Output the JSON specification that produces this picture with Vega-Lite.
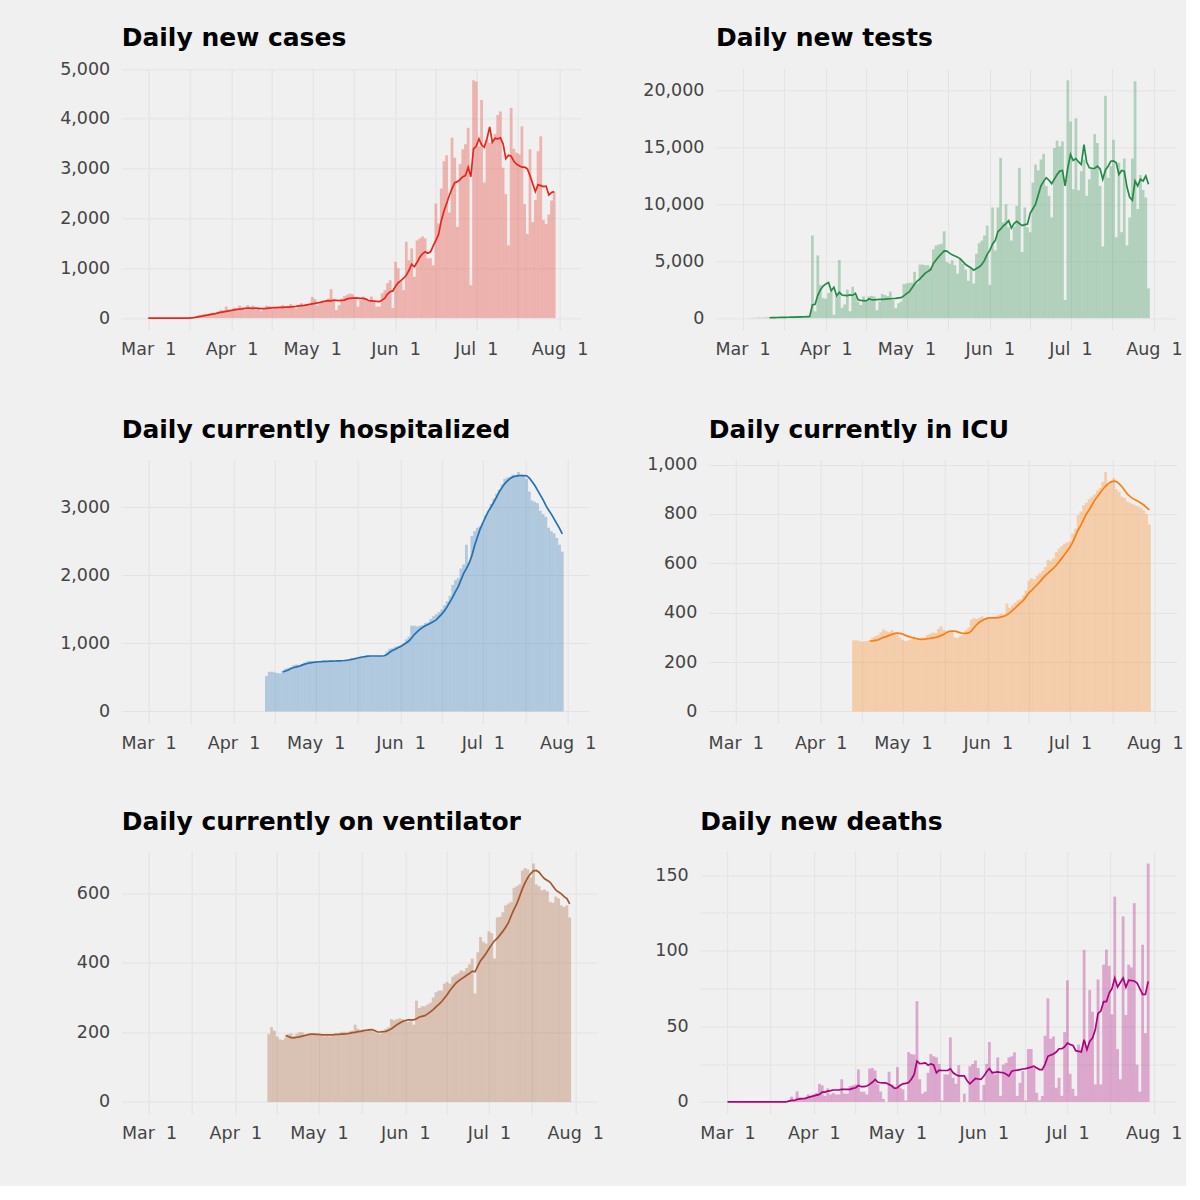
{
"$schema": "https://vega.github.io/schema/vega-lite/v6.json",
"background": "#f0f0f0",
"padding": {"left": 41.7, "top": 25.4, "right": 2, "bottom": 44},
"config": {
  "view": {"stroke": null},
  "axis": {"grid": true, "gridColor": "#e3e3e3", "gridWidth": 1, "domain": false, "ticks": false, "labelFont": "DejaVu Sans", "labelFontSize": 17.5, "labelColor": "#444444", "labelPadding": 11},
  "axisY": {"labelPadding": 12},
  "title": {"font": "DejaVu Sans", "fontSize": 25, "fontWeight": "bold", "color": "#000000", "anchor": "start", "frame": "group", "baseline": "alphabetic", "offset": 16.7}
},
"data": {"values": [
{"d":"2020-03-01","c":0,"cl":0,"x":0,"xl":0},
{"d":"2020-03-02","c":0,"cl":0,"x":0,"xl":0},
{"d":"2020-03-03","c":0,"cl":0,"x":0,"xl":0},
{"d":"2020-03-04","c":0,"cl":0,"t":20,"x":0,"xl":0},
{"d":"2020-03-05","c":0,"cl":0,"t":40,"x":0,"xl":0},
{"d":"2020-03-06","c":0,"cl":0,"t":30,"x":0,"xl":0},
{"d":"2020-03-07","c":0,"cl":0,"t":60,"x":0,"xl":0},
{"d":"2020-03-08","c":0,"cl":0,"t":40,"x":0,"xl":0},
{"d":"2020-03-09","c":0,"cl":0,"t":50,"x":0,"xl":0},
{"d":"2020-03-10","c":0,"cl":0,"t":70,"x":0,"xl":0},
{"d":"2020-03-11","c":0,"cl":0,"t":50,"tl":30,"x":0,"xl":0},
{"d":"2020-03-12","c":0,"cl":0,"t":60,"tl":40,"x":0,"xl":0},
{"d":"2020-03-13","c":0,"cl":0,"t":40,"tl":50,"x":0,"xl":0},
{"d":"2020-03-14","c":0,"cl":0,"t":70,"tl":55,"x":0,"xl":0},
{"d":"2020-03-15","c":0,"cl":0,"t":80,"tl":60,"x":0,"xl":0},
{"d":"2020-03-16","c":5,"cl":0,"t":60,"tl":65,"x":0,"xl":0},
{"d":"2020-03-17","c":10,"cl":5,"t":90,"tl":70,"x":0,"xl":0},
{"d":"2020-03-18","c":20,"cl":10,"t":100,"tl":75,"x":0,"xl":0},
{"d":"2020-03-19","c":30,"cl":20,"t":80,"tl":80,"x":0,"xl":0},
{"d":"2020-03-20","c":60,"cl":30,"t":110,"tl":85,"x":0,"xl":0},
{"d":"2020-03-21","c":50,"cl":40,"t":130,"tl":95,"x":0,"xl":0},
{"d":"2020-03-22","c":80,"cl":50,"t":120,"tl":100,"x":0,"xl":0},
{"d":"2020-03-23","c":70,"cl":60,"t":150,"tl":110,"x":1,"xl":0.5},
{"d":"2020-03-24","c":100,"cl":70,"t":140,"tl":120,"x":3.5,"xl":1},
{"d":"2020-03-25","c":110,"cl":80,"t":160,"tl":130,"x":1,"xl":1},
{"d":"2020-03-26","c":90,"cl":90,"t":180,"tl":145,"x":7,"xl":1.7},
{"d":"2020-03-27","c":130,"cl":105,"t":7250,"tl":1160,"x":3,"xl":2},
{"d":"2020-03-28","c":160,"cl":115,"t":600,"tl":1220,"x":2,"xl":2.2},
{"d":"2020-03-29","c":150,"cl":125,"t":5500,"tl":2000,"x":3,"xl":2.4},
{"d":"2020-03-30","c":230,"cl":135,"t":2900,"tl":2500,"x":5,"xl":3},
{"d":"2020-03-31","c":170,"cl":145,"t":1750,"tl":2810,"x":4,"xl":3.5},
{"d":"2020-04-01","c":150,"cl":155,"t":1700,"tl":3000,"x":5,"xl":4},
{"d":"2020-04-02","c":210,"cl":165,"t":2200,"tl":3130,"x":6,"xl":4.5},
{"d":"2020-04-03","c":190,"cl":175,"t":2400,"tl":2400,"x":12,"xl":5},
{"d":"2020-04-04","c":250,"cl":180,"t":300,"tl":2700,"x":11,"xl":6.5},
{"d":"2020-04-05","c":220,"cl":185,"t":1900,"tl":1970,"x":4,"xl":6.5},
{"d":"2020-04-06","c":160,"cl":195,"t":5100,"tl":2260,"x":9,"xl":7.2},
{"d":"2020-04-07","c":260,"cl":200,"t":900,"tl":2030,"x":5,"xl":7.5},
{"d":"2020-04-08","c":200,"cl":200,"t":1200,"tl":2000,"x":6,"xl":7.9},
{"d":"2020-04-09","c":250,"cl":195,"t":2500,"tl":1970,"x":5,"xl":7.9},
{"d":"2020-04-10","c":170,"cl":200,"t":600,"tl":2030,"x":5,"xl":7.9},
{"d":"2020-04-11","c":200,"cl":195,"t":2750,"tl":2000,"x":15,"xl":8.3},
{"d":"2020-04-12","c":140,"cl":190,"t":1900,"tl":2170,"x":5.5,"xl":8.3},
{"d":"2020-04-13","c":180,"cl":190,"t":1450,"tl":1600,"h":520,"i":288,"v":195,"x":5.5,"xl":8.3},
{"d":"2020-04-14","c":250,"cl":195,"t":1150,"tl":1550,"h":580,"i":288,"v":215,"x":10.5,"xl":8.3},
{"d":"2020-04-15","c":240,"cl":200,"t":1900,"tl":1530,"h":585,"i":287,"v":205,"x":11,"xl":9},
{"d":"2020-04-16","c":170,"cl":205,"t":1450,"tl":1510,"h":575,"i":282,"v":188,"x":11.6,"xl":9.4},
{"d":"2020-04-17","c":200,"cl":210,"t":1900,"tl":1680,"h":565,"i":284,"v":180,"x":21.5,"xl":10.9},
{"d":"2020-04-18","c":220,"cl":210,"t":1950,"tl":1620,"h":560,"i":286,"v":178,"x":6.8,"xl":10.1},
{"d":"2020-04-19","c":210,"cl":215,"t":1900,"tl":1600,"h":600,"hl":580,"i":290,"il":285,"v":185,"vl":191,"x":6.8,"xl":10.1},
{"d":"2020-04-20","c":260,"cl":215,"t":700,"tl":1620,"h":630,"hl":595,"i":300,"il":286,"v":195,"vl":188,"x":5,"xl":10.5},
{"d":"2020-04-21","c":200,"cl":220,"t":1450,"tl":1640,"h":640,"hl":610,"i":305,"il":288,"v":197,"vl":185,"x":22,"xl":11.6},
{"d":"2020-04-22","c":240,"cl":220,"t":2120,"tl":1650,"h":650,"hl":630,"i":310,"il":290,"v":190,"vl":184,"x":22.5,"xl":13},
{"d":"2020-04-23","c":280,"cl":225,"t":2030,"tl":1660,"h":680,"hl":645,"i":320,"il":295,"v":196,"vl":186,"x":20.8,"xl":14.9},
{"d":"2020-04-24","c":220,"cl":230,"t":1940,"tl":1680,"h":690,"hl":655,"i":332,"il":300,"v":200,"vl":187,"x":11.6,"xl":13},
{"d":"2020-04-25","c":190,"cl":235,"t":2320,"tl":1700,"h":670,"hl":665,"i":325,"il":303,"v":200,"vl":189,"x":6.8,"xl":12.7},
{"d":"2020-04-26","c":260,"cl":245,"t":1590,"tl":1720,"h":700,"hl":680,"i":322,"il":308,"v":195,"vl":191,"x":2,"xl":12.6},
{"d":"2020-04-27","c":300,"cl":250,"t":870,"tl":1740,"h":720,"hl":695,"i":330,"il":312,"v":197,"vl":193,"x":0,"xl":12.5},
{"d":"2020-04-28","c":250,"cl":255,"t":1300,"tl":1770,"h":740,"hl":705,"i":315,"il":316,"v":195,"vl":195,"x":20,"xl":11.6},
{"d":"2020-04-29","c":270,"cl":265,"t":1450,"tl":1800,"h":745,"hl":715,"i":310,"il":317,"v":193,"vl":195,"x":11.6,"xl":10.5},
{"d":"2020-04-30","c":260,"cl":275,"t":2990,"tl":1950,"h":730,"hl":720,"i":300,"il":316,"v":195,"vl":194,"x":9.4,"xl":9},
{"d":"2020-05-01","c":420,"cl":285,"t":3040,"tl":2150,"h":725,"hl":725,"i":290,"il":313,"v":192,"vl":194,"x":23,"xl":9.4},
{"d":"2020-05-02","c":380,"cl":295,"t":3100,"tl":2300,"h":740,"hl":730,"i":285,"il":308,"v":190,"vl":193,"x":9.4,"xl":11},
{"d":"2020-05-03","c":250,"cl":305,"t":3100,"tl":2650,"h":740,"hl":732,"i":288,"il":304,"v":188,"vl":193,"x":8.3,"xl":12},
{"d":"2020-05-04","c":300,"cl":315,"t":4060,"tl":3000,"h":735,"hl":735,"i":292,"il":300,"v":190,"vl":193,"x":1,"xl":12.3},
{"d":"2020-05-05","c":320,"cl":330,"t":3040,"tl":3250,"h":740,"hl":737,"i":295,"il":298,"v":188,"vl":193,"x":33,"xl":12.9},
{"d":"2020-05-06","c":350,"cl":340,"t":4700,"tl":3450,"h":745,"hl":738,"i":292,"il":295,"v":190,"vl":193,"x":31.7,"xl":15},
{"d":"2020-05-07","c":390,"cl":350,"t":4700,"tl":3700,"h":740,"hl":740,"i":296,"il":293,"v":193,"vl":194,"x":31.3,"xl":18.2},
{"d":"2020-05-08","c":580,"cl":345,"t":4640,"tl":3950,"h":740,"hl":741,"i":300,"il":292,"v":195,"vl":194,"x":66.7,"xl":27},
{"d":"2020-05-09","c":340,"cl":360,"t":4640,"tl":4100,"h":745,"hl":742,"i":298,"il":293,"v":200,"vl":195,"x":15,"xl":25.4},
{"d":"2020-05-10","c":160,"cl":355,"t":4440,"tl":4260,"h":735,"hl":743,"i":310,"il":295,"v":202,"vl":195,"x":5.5,"xl":25.5},
{"d":"2020-05-11","c":260,"cl":350,"t":6030,"tl":4800,"h":730,"hl":745,"i":315,"il":296,"v":200,"vl":196,"x":6.8,"xl":25.8},
{"d":"2020-05-12","c":390,"cl":355,"t":6380,"tl":5100,"h":750,"hl":750,"i":320,"il":298,"v":203,"vl":197,"x":19.3,"xl":24.3},
{"d":"2020-05-13","c":440,"cl":360,"t":6460,"tl":5400,"h":765,"hl":756,"i":318,"il":300,"v":205,"vl":199,"x":31.7,"xl":25.2},
{"d":"2020-05-14","c":470,"cl":385,"t":6520,"tl":5650,"h":760,"hl":764,"i":335,"il":303,"v":222,"vl":200,"x":30.2,"xl":24.5},
{"d":"2020-05-15","c":490,"cl":395,"t":7620,"tl":5900,"h":770,"hl":772,"i":345,"il":308,"v":210,"vl":202,"x":29.5,"xl":19.3},
{"d":"2020-05-16","c":480,"cl":400,"t":4930,"tl":5880,"h":785,"hl":782,"i":330,"il":312,"v":207,"vl":203,"x":25.2,"xl":21},
{"d":"2020-05-17","c":400,"cl":405,"t":4780,"tl":5700,"h":800,"hl":792,"i":325,"il":320,"v":208,"vl":205,"x":1,"xl":20.8},
{"d":"2020-05-18","c":230,"cl":400,"t":5070,"tl":5550,"h":805,"hl":800,"i":328,"il":324,"v":208,"vl":206,"x":18.2,"xl":20.8},
{"d":"2020-05-19","c":360,"cl":395,"t":4640,"tl":5450,"h":810,"hl":806,"i":322,"il":325,"v":210,"vl":207,"x":18.2,"xl":20.8},
{"d":"2020-05-20","c":430,"cl":395,"t":3910,"tl":5350,"h":815,"hl":812,"i":300,"il":325,"v":205,"vl":208,"x":42.7,"xl":21.9},
{"d":"2020-05-21","c":400,"cl":380,"t":5220,"tl":5200,"h":810,"hl":815,"i":298,"il":322,"v":200,"vl":205,"x":16,"xl":19.3},
{"d":"2020-05-22","c":330,"cl":350,"t":4780,"tl":4950,"h":805,"hl":815,"i":305,"il":318,"v":197,"vl":201,"x":12,"xl":18},
{"d":"2020-05-23","c":430,"cl":345,"t":4260,"tl":4700,"h":810,"hl":815,"i":310,"il":316,"v":196,"vl":201,"x":24.3,"xl":17.3},
{"d":"2020-05-24","c":330,"cl":340,"t":3280,"tl":4550,"h":815,"hl":815,"i":330,"il":316,"v":200,"vl":202,"x":0,"xl":17.3},
{"d":"2020-05-25","c":230,"cl":335,"t":4350,"tl":4400,"h":810,"hl":815,"i":340,"il":318,"v":210,"vl":203,"x":5.5,"xl":17.3},
{"d":"2020-05-26","c":230,"cl":330,"t":3040,"tl":4200,"h":820,"hl":818,"i":372,"il":325,"v":215,"vl":206,"x":0,"xl":14},
{"d":"2020-05-27","c":500,"cl":360,"t":5650,"tl":4350,"h":880,"hl":835,"i":378,"il":340,"v":238,"vl":210,"x":23.6,"xl":12},
{"d":"2020-05-28","c":560,"cl":400,"t":6580,"tl":4490,"h":920,"hl":870,"i":375,"il":352,"v":235,"vl":216,"x":25.2,"xl":13.8},
{"d":"2020-05-29","c":700,"cl":480,"t":6810,"tl":4700,"h":930,"hl":895,"i":380,"il":362,"v":238,"vl":222,"x":27.4,"xl":15.5},
{"d":"2020-05-30","c":760,"cl":530,"t":7250,"tl":5070,"h":950,"hl":915,"i":385,"il":368,"v":240,"vl":227,"x":22.5,"xl":15.2},
{"d":"2020-05-31","c":200,"cl":545,"t":8120,"tl":5600,"h":960,"hl":937,"i":378,"il":374,"v":238,"vl":231,"x":1,"xl":14.9},
{"d":"2020-06-01","c":1130,"cl":640,"t":2900,"tl":5940,"h":970,"hl":955,"i":380,"il":378,"v":232,"vl":234,"x":11.2,"xl":17.1},
{"d":"2020-06-02","c":1000,"cl":710,"t":9710,"tl":6500,"h":1000,"hl":980,"i":382,"il":379,"v":230,"vl":236,"x":25.2,"xl":20},
{"d":"2020-06-03","c":730,"cl":750,"t":5940,"tl":6810,"h":1060,"hl":1005,"i":380,"il":379,"v":232,"vl":236,"x":39.6,"xl":22.1},
{"d":"2020-06-04","c":560,"cl":800,"t":9710,"tl":7600,"h":1100,"hl":1035,"i":385,"il":379,"v":222,"vl":236,"x":20.4,"xl":19.3},
{"d":"2020-06-05","c":1530,"cl":860,"t":14060,"tl":7800,"h":1260,"hl":1080,"i":392,"il":380,"v":291,"vl":239,"x":18.2,"xl":19.6},
{"d":"2020-06-06","c":1160,"cl":960,"t":8410,"tl":8100,"h":1260,"hl":1130,"i":395,"il":383,"v":270,"vl":244,"x":29.5,"xl":19.9},
{"d":"2020-06-07","c":1400,"cl":1080,"t":10000,"tl":8300,"h":1250,"hl":1170,"i":390,"il":386,"v":275,"vl":246,"x":4,"xl":19.5},
{"d":"2020-06-08","c":830,"cl":1030,"t":7970,"tl":8550,"h":1260,"hl":1205,"i":437,"il":392,"v":275,"vl":248,"x":24.7,"xl":19.3},
{"d":"2020-06-09","c":1560,"cl":1120,"t":6810,"tl":7910,"h":1270,"hl":1235,"i":420,"il":399,"v":280,"vl":253,"x":25.8,"xl":18.5},
{"d":"2020-06-10","c":1600,"cl":1220,"t":8030,"tl":8300,"h":1300,"hl":1260,"i":430,"il":408,"v":285,"vl":259,"x":29.5,"xl":17.1},
{"d":"2020-06-11","c":1640,"cl":1290,"t":9860,"tl":8490,"h":1310,"hl":1279,"i":440,"il":419,"v":300,"vl":265,"x":30.2,"xl":20.3},
{"d":"2020-06-12","c":1600,"cl":1330,"t":13190,"tl":8300,"h":1360,"hl":1300,"i":450,"il":430,"v":315,"vl":273,"x":32.8,"xl":20.8},
{"d":"2020-06-13","c":1200,"cl":1300,"t":5800,"tl":8120,"h":1400,"hl":1320,"i":455,"il":440,"v":320,"vl":280,"x":4,"xl":21},
{"d":"2020-06-14","c":1200,"cl":1330,"t":9710,"tl":8200,"h":1430,"hl":1345,"i":470,"il":450,"v":320,"vl":288,"x":12.7,"xl":21.4},
{"d":"2020-06-15","c":1060,"cl":1450,"t":7970,"tl":8260,"h":1460,"hl":1390,"i":490,"il":465,"v":340,"vl":298,"x":20.4,"xl":21.8},
{"d":"2020-06-16","c":2300,"cl":1560,"t":7540,"tl":9200,"h":1500,"hl":1430,"i":530,"il":480,"v":345,"vl":308,"x":1,"xl":22},
{"d":"2020-06-17","c":1900,"cl":1680,"t":11890,"tl":9600,"h":1560,"hl":1480,"i":540,"il":490,"v":340,"vl":320,"x":35,"xl":22.5},
{"d":"2020-06-18","c":2600,"cl":1950,"t":13480,"tl":10000,"h":1620,"hl":1540,"i":535,"il":502,"v":360,"vl":330,"x":35,"xl":23},
{"d":"2020-06-19","c":3150,"cl":2150,"t":12960,"tl":10800,"h":1700,"hl":1610,"i":550,"il":513,"v":365,"vl":340,"x":22.5,"xl":23.6},
{"d":"2020-06-20","c":3270,"cl":2300,"t":13920,"tl":11600,"h":1860,"hl":1680,"i":560,"il":525,"v":370,"vl":347,"x":6.1,"xl":22.5},
{"d":"2020-06-21","c":2120,"cl":2460,"t":14410,"tl":12000,"h":1930,"hl":1760,"i":570,"il":538,"v":378,"vl":353,"x":1,"xl":21.4},
{"d":"2020-06-22","c":3620,"cl":2600,"t":11600,"tl":12320,"h":1960,"hl":1830,"i":585,"il":550,"v":375,"vl":358,"x":4,"xl":21.4},
{"d":"2020-06-23","c":3220,"cl":2720,"t":10730,"tl":12100,"h":2100,"hl":1930,"i":614,"il":560,"v":385,"vl":364,"x":43.8,"xl":25},
{"d":"2020-06-24","c":1830,"cl":2740,"t":8840,"tl":11800,"h":2160,"hl":2030,"i":610,"il":570,"v":395,"vl":369,"x":68.5,"xl":30.2},
{"d":"2020-06-25","c":3090,"cl":2780,"t":14930,"tl":12200,"h":2450,"hl":2100,"i":620,"il":580,"v":412,"vl":376,"x":41.8,"xl":31},
{"d":"2020-06-26","c":3390,"cl":2840,"t":15570,"tl":12600,"h":2200,"hl":2180,"i":645,"il":592,"v":312,"vl":374,"x":43.3,"xl":31.7},
{"d":"2020-06-27","c":3490,"cl":2860,"t":15070,"tl":12900,"h":2580,"hl":2290,"i":660,"il":605,"v":430,"vl":390,"x":9.4,"xl":33},
{"d":"2020-06-28","c":3820,"cl":3030,"t":15510,"tl":12960,"h":2650,"hl":2440,"i":670,"il":620,"v":474,"vl":406,"x":16,"xl":35.2},
{"d":"2020-06-29","c":660,"cl":2840,"t":1590,"tl":11600,"h":2700,"hl":2560,"i":680,"il":635,"v":460,"vl":416,"x":4,"xl":35.2},
{"d":"2020-06-30","c":4775,"cl":3400,"t":20870,"tl":13200,"h":2720,"hl":2680,"i":685,"il":650,"v":455,"vl":427,"x":46.2,"xl":36.5},
{"d":"2020-07-01","c":4750,"cl":3450,"t":17250,"tl":14350,"h":2780,"hl":2770,"i":690,"il":665,"v":490,"vl":440,"x":80.5,"xl":39},
{"d":"2020-07-02","c":3450,"cl":3600,"t":11310,"tl":13830,"h":2880,"hl":2860,"i":720,"il":685,"v":485,"vl":452,"x":18.6,"xl":38},
{"d":"2020-07-03","c":4380,"cl":3480,"t":17540,"tl":14000,"h":2950,"hl":2940,"i":740,"il":710,"v":412,"vl":463,"x":8.7,"xl":37.4},
{"d":"2020-07-04","c":2720,"cl":3430,"t":11220,"tl":13700,"h":3050,"hl":3005,"i":795,"il":735,"v":530,"vl":470,"x":4,"xl":33.9},
{"d":"2020-07-05","c":3590,"cl":3600,"t":12900,"tl":13480,"h":3130,"hl":3075,"i":810,"il":755,"v":532,"vl":480,"x":38,"xl":33.5},
{"d":"2020-07-06","c":3520,"cl":3840,"t":13920,"tl":15220,"h":3200,"hl":3150,"i":835,"il":778,"v":545,"vl":490,"x":34.6,"xl":33},
{"d":"2020-07-07","c":3550,"cl":3530,"t":10730,"tl":13700,"h":3260,"hl":3230,"i":845,"il":800,"v":565,"vl":502,"x":100.6,"xl":41.1},
{"d":"2020-07-08","c":3700,"cl":3610,"t":12180,"tl":13190,"h":3340,"hl":3290,"i":860,"il":816,"v":570,"vl":515,"x":35.7,"xl":34.6},
{"d":"2020-07-09","c":4080,"cl":3600,"t":13190,"tl":13150,"h":3420,"hl":3350,"i":870,"il":835,"v":575,"vl":535,"x":74,"xl":40},
{"d":"2020-07-10","c":4150,"cl":3620,"t":16150,"tl":13130,"h":3440,"hl":3390,"i":880,"il":855,"v":615,"vl":553,"x":59.7,"xl":42.2},
{"d":"2020-07-11","c":3020,"cl":3500,"t":15360,"tl":13330,"h":3450,"hl":3425,"i":895,"il":870,"v":620,"vl":569,"x":11.6,"xl":47.7},
{"d":"2020-07-12","c":2490,"cl":3200,"t":11600,"tl":13100,"h":3480,"hl":3448,"i":905,"il":885,"v":625,"vl":590,"x":81,"xl":58.6},
{"d":"2020-07-13","c":1460,"cl":3270,"t":6290,"tl":12180,"h":3460,"hl":3458,"i":930,"il":900,"v":665,"vl":612,"x":11.6,"xl":60.1},
{"d":"2020-07-14","c":4220,"cl":3250,"t":19510,"tl":13000,"h":3520,"hl":3465,"i":970,"il":912,"v":672,"vl":630,"x":90.8,"xl":66.3},
{"d":"2020-07-15","c":3400,"cl":3150,"t":12320,"tl":13330,"h":3480,"hl":3467,"i":917,"il":923,"v":668,"vl":645,"x":100.8,"xl":66.3},
{"d":"2020-07-16","c":3320,"cl":3090,"t":13330,"tl":13770,"h":3470,"hl":3468,"i":930,"il":930,"v":645,"vl":656,"x":90,"xl":72},
{"d":"2020-07-17","c":3290,"cl":3060,"t":15650,"tl":13800,"h":3420,"hl":3465,"i":945,"il":933,"v":685,"vl":664,"x":58,"xl":75},
{"d":"2020-07-18","c":3850,"cl":3030,"t":7100,"tl":13630,"h":3230,"hl":3430,"i":900,"il":931,"v":625,"vl":665,"x":135.8,"xl":82},
{"d":"2020-07-19","c":2290,"cl":3030,"t":13630,"tl":12610,"h":3100,"hl":3375,"i":890,"il":922,"v":620,"vl":660,"x":35,"xl":76.1},
{"d":"2020-07-20","c":1690,"cl":3000,"t":7540,"tl":12960,"h":3080,"hl":3320,"i":870,"il":910,"v":608,"vl":650,"x":15,"xl":79},
{"d":"2020-07-21","c":3390,"cl":2860,"t":14000,"tl":12900,"h":3060,"hl":3250,"i":865,"il":895,"v":610,"vl":641,"x":122.7,"xl":82},
{"d":"2020-07-22","c":1930,"cl":2700,"t":6380,"tl":11500,"h":2950,"hl":3180,"i":850,"il":880,"v":605,"vl":636,"x":57.5,"xl":75.9},
{"d":"2020-07-23","c":2370,"cl":2540,"t":8840,"tl":10600,"h":2900,"hl":3110,"i":845,"il":870,"v":575,"vl":631,"x":90.8,"xl":80.5},
{"d":"2020-07-24","c":3350,"cl":2680,"t":14000,"tl":10350,"h":2860,"hl":3030,"i":840,"il":862,"v":572,"vl":620,"x":89,"xl":80.3},
{"d":"2020-07-25","c":3650,"cl":2660,"t":20790,"tl":12030,"h":2700,"hl":2960,"i":835,"il":856,"v":590,"vl":609,"x":131.5,"xl":80},
{"d":"2020-07-26","c":1970,"cl":2640,"t":9570,"tl":11600,"h":2650,"hl":2900,"i":830,"il":850,"v":585,"vl":603,"x":24.7,"xl":78.7},
{"d":"2020-07-27","c":1890,"cl":2650,"t":12550,"tl":12180,"h":2620,"hl":2830,"i":825,"il":843,"v":565,"vl":598,"x":6.8,"xl":75},
{"d":"2020-07-28","c":2080,"cl":2470,"t":11250,"tl":12030,"h":2550,"hl":2760,"i":815,"il":836,"v":560,"vl":590,"x":104,"xl":71.1},
{"d":"2020-07-29","c":2360,"cl":2520,"t":10580,"tl":12470,"h":2450,"hl":2690,"i":800,"il":826,"v":565,"vl":584,"x":45.5,"xl":71.1},
{"d":"2020-07-30","c":2540,"cl":2540,"t":2610,"tl":11740,"h":2350,"hl":2610,"i":758,"il":816,"v":530,"vl":569,"x":157.7,"xl":79.8}
]},
"vconcat": [
{"hconcat": [
 {"width": 459, "height": 261.6, "title": {"text": "Daily new cases", "offset": 8.7},
  "encoding": {"x": {"field": "d", "type": "temporal", "title": null, "scale": {"type": "utc", "domain": [{"year":2020,"month":2,"date":22,"utc":true},{"year":2020,"month":8,"date":7,"utc":true}]}, "axis": {"values": [{"year":2020,"month":3,"date":1,"utc":true},{"year":2020,"month":3,"date":16,"hours":12,"utc":true},{"year":2020,"month":4,"date":1,"utc":true},{"year":2020,"month":4,"date":16,"utc":true},{"year":2020,"month":5,"date":1,"utc":true},{"year":2020,"month":5,"date":16,"hours":12,"utc":true},{"year":2020,"month":6,"date":1,"utc":true},{"year":2020,"month":6,"date":16,"utc":true},{"year":2020,"month":7,"date":1,"utc":true},{"year":2020,"month":7,"date":16,"hours":12,"utc":true},{"year":2020,"month":8,"date":1,"utc":true}], "labelExpr": "utcdate(datum.value) == 1 && utchours(datum.value) == 0 ? utcFormat(datum.value, '%b') + '\u00a0\u00a01' : ''", "labelOverlap": false, "labelFlush": false}}},
  "layer": [
   {"transform": [{"filter": "isValid(datum.c)"}], "mark": {"type": "bar", "color": "#e8271b", "opacity": 0.3, "width": 2.75},
    "encoding": {"y": {"field": "c", "type": "quantitative", "title": null, "scale": {"domain": [-240, 5014], "nice": false, "zero": false}, "axis": {"values": [0,500,1000,1500,2000,2500,3000,3500,4000,4500,5000], "labelExpr": "datum.value % 1000 == 0 ? format(datum.value, ',') : ''", "minExtent": 80}}, "y2": {"datum": 0}}},
   {"mark": {"type": "line", "color": "#e8271b", "strokeWidth": 1.7}, "encoding": {"y": {"field": "cl", "type": "quantitative", "title": null}}}
  ]},
 {"width": 459, "height": 261.6, "title": {"text": "Daily new tests", "offset": 17.7},
  "encoding": {"x": {"field": "d", "type": "temporal", "title": null, "scale": {"type": "utc", "domain": [{"year":2020,"month":2,"date":22,"utc":true},{"year":2020,"month":8,"date":7,"utc":true}]}, "axis": {"values": [{"year":2020,"month":3,"date":1,"utc":true},{"year":2020,"month":3,"date":16,"hours":12,"utc":true},{"year":2020,"month":4,"date":1,"utc":true},{"year":2020,"month":4,"date":16,"utc":true},{"year":2020,"month":5,"date":1,"utc":true},{"year":2020,"month":5,"date":16,"hours":12,"utc":true},{"year":2020,"month":6,"date":1,"utc":true},{"year":2020,"month":6,"date":16,"utc":true},{"year":2020,"month":7,"date":1,"utc":true},{"year":2020,"month":7,"date":16,"hours":12,"utc":true},{"year":2020,"month":8,"date":1,"utc":true}], "labelExpr": "utcdate(datum.value) == 1 && utchours(datum.value) == 0 ? utcFormat(datum.value, '%b') + '\u00a0\u00a01' : ''", "labelOverlap": false, "labelFlush": false}}},
  "layer": [
   {"transform": [{"filter": "isValid(datum.t)"}], "mark": {"type": "bar", "color": "#238b45", "opacity": 0.3, "width": 2.75},
    "encoding": {"y": {"field": "t", "type": "quantitative", "title": null, "scale": {"domain": [-1043, 21913], "nice": false, "zero": false}, "axis": {"values": [0,2500,5000,7500,10000,12500,15000,17500,20000], "labelExpr": "datum.value % 5000 == 0 ? format(datum.value, ',') : ''"}}, "y2": {"datum": 0}}},
   {"mark": {"type": "line", "color": "#238b45", "strokeWidth": 1.7}, "encoding": {"y": {"field": "tl", "type": "quantitative", "title": null}}}
  ]}
 ], "bounds": "flush", "spacing": 135.3},
{"hconcat": [
 {"width": 467.5, "height": 263.4, "title": {"text": "Daily currently hospitalized"},
  "encoding": {"x": {"field": "d", "type": "temporal", "title": null, "scale": {"type": "utc", "domain": [{"year":2020,"month":2,"date":22,"utc":true},{"year":2020,"month":8,"date":7,"utc":true}]}, "axis": {"values": [{"year":2020,"month":3,"date":1,"utc":true},{"year":2020,"month":3,"date":16,"hours":12,"utc":true},{"year":2020,"month":4,"date":1,"utc":true},{"year":2020,"month":4,"date":16,"utc":true},{"year":2020,"month":5,"date":1,"utc":true},{"year":2020,"month":5,"date":16,"hours":12,"utc":true},{"year":2020,"month":6,"date":1,"utc":true},{"year":2020,"month":6,"date":16,"utc":true},{"year":2020,"month":7,"date":1,"utc":true},{"year":2020,"month":7,"date":16,"hours":12,"utc":true},{"year":2020,"month":8,"date":1,"utc":true}], "labelExpr": "utcdate(datum.value) == 1 && utchours(datum.value) == 0 ? utcFormat(datum.value, '%b') + '\u00a0\u00a01' : ''", "labelOverlap": false, "labelFlush": false}}},
  "layer": [
   {"transform": [{"filter": "isValid(datum.h)"}], "mark": {"type": "bar", "color": "#2171b5", "opacity": 0.3, "width": 2.8},
    "encoding": {"y": {"field": "h", "type": "quantitative", "title": null, "scale": {"domain": [-176, 3696], "nice": false, "zero": false}, "axis": {"values": [0,500,1000,1500,2000,2500,3000,3500], "labelExpr": "datum.value % 1000 == 0 ? format(datum.value, ',') : ''", "minExtent": 80}}, "y2": {"datum": 0}}},
   {"mark": {"type": "line", "color": "#2171b5", "strokeWidth": 1.7}, "encoding": {"y": {"field": "hl", "type": "quantitative", "title": null}}}
  ]},
 {"width": 467.5, "height": 263.4, "title": {"text": "Daily currently in ICU", "offset": 12.7},
  "encoding": {"x": {"field": "d", "type": "temporal", "title": null, "scale": {"type": "utc", "domain": [{"year":2020,"month":2,"date":22,"utc":true},{"year":2020,"month":8,"date":7,"utc":true}]}, "axis": {"values": [{"year":2020,"month":3,"date":1,"utc":true},{"year":2020,"month":3,"date":16,"hours":12,"utc":true},{"year":2020,"month":4,"date":1,"utc":true},{"year":2020,"month":4,"date":16,"utc":true},{"year":2020,"month":5,"date":1,"utc":true},{"year":2020,"month":5,"date":16,"hours":12,"utc":true},{"year":2020,"month":6,"date":1,"utc":true},{"year":2020,"month":6,"date":16,"utc":true},{"year":2020,"month":7,"date":1,"utc":true},{"year":2020,"month":7,"date":16,"hours":12,"utc":true},{"year":2020,"month":8,"date":1,"utc":true}], "labelExpr": "utcdate(datum.value) == 1 && utchours(datum.value) == 0 ? utcFormat(datum.value, '%b') + '\u00a0\u00a01' : ''", "labelOverlap": false, "labelFlush": false}}},
  "layer": [
   {"transform": [{"filter": "isValid(datum.i)"}], "mark": {"type": "bar", "color": "#ff7f0e", "opacity": 0.3, "width": 2.8},
    "encoding": {"y": {"field": "i", "type": "quantitative", "title": null, "scale": {"domain": [-48.5, 1018.5], "nice": false, "zero": false}, "axis": {"values": [0,100,200,300,400,500,600,700,800,900,1000], "labelExpr": "datum.value % 200 == 0 ? format(datum.value, ',') : ''"}}, "y2": {"datum": 0}}},
   {"mark": {"type": "line", "color": "#ff7f0e", "strokeWidth": 1.7}, "encoding": {"y": {"field": "il", "type": "quantitative", "title": null}}}
  ]}
 ], "bounds": "flush", "spacing": 119.1},
{"hconcat": [
 {"width": 475.3, "height": 262.3, "title": {"text": "Daily currently on ventilator"},
  "encoding": {"x": {"field": "d", "type": "temporal", "title": null, "scale": {"type": "utc", "domain": [{"year":2020,"month":2,"date":22,"utc":true},{"year":2020,"month":8,"date":7,"utc":true}]}, "axis": {"values": [{"year":2020,"month":3,"date":1,"utc":true},{"year":2020,"month":3,"date":16,"hours":12,"utc":true},{"year":2020,"month":4,"date":1,"utc":true},{"year":2020,"month":4,"date":16,"utc":true},{"year":2020,"month":5,"date":1,"utc":true},{"year":2020,"month":5,"date":16,"hours":12,"utc":true},{"year":2020,"month":6,"date":1,"utc":true},{"year":2020,"month":6,"date":16,"utc":true},{"year":2020,"month":7,"date":1,"utc":true},{"year":2020,"month":7,"date":16,"hours":12,"utc":true},{"year":2020,"month":8,"date":1,"utc":true}], "labelExpr": "utcdate(datum.value) == 1 && utchours(datum.value) == 0 ? utcFormat(datum.value, '%b') + '\u00a0\u00a01' : ''", "labelOverlap": false, "labelFlush": false}}},
  "layer": [
   {"transform": [{"filter": "isValid(datum.v)"}], "mark": {"type": "bar", "color": "#a65628", "opacity": 0.3, "width": 2.85},
    "encoding": {"y": {"field": "v", "type": "quantitative", "title": null, "scale": {"domain": [-34.25, 719.25], "nice": false, "zero": false}, "axis": {"values": [0,100,200,300,400,500,600,700], "labelExpr": "datum.value % 200 == 0 ? format(datum.value, ',') : ''", "minExtent": 80}}, "y2": {"datum": 0}}},
   {"mark": {"type": "line", "color": "#a65628", "strokeWidth": 1.7}, "encoding": {"y": {"field": "vl", "type": "quantitative", "title": null}}}
  ]},
 {"width": 475.3, "height": 262.3, "title": {"text": "Daily new deaths"},
  "encoding": {"x": {"field": "d", "type": "temporal", "title": null, "scale": {"type": "utc", "domain": [{"year":2020,"month":2,"date":22,"utc":true},{"year":2020,"month":8,"date":7,"utc":true}]}, "axis": {"values": [{"year":2020,"month":3,"date":1,"utc":true},{"year":2020,"month":3,"date":16,"hours":12,"utc":true},{"year":2020,"month":4,"date":1,"utc":true},{"year":2020,"month":4,"date":16,"utc":true},{"year":2020,"month":5,"date":1,"utc":true},{"year":2020,"month":5,"date":16,"hours":12,"utc":true},{"year":2020,"month":6,"date":1,"utc":true},{"year":2020,"month":6,"date":16,"utc":true},{"year":2020,"month":7,"date":1,"utc":true},{"year":2020,"month":7,"date":16,"hours":12,"utc":true},{"year":2020,"month":8,"date":1,"utc":true}], "labelExpr": "utcdate(datum.value) == 1 && utchours(datum.value) == 0 ? utcFormat(datum.value, '%b') + '\u00a0\u00a01' : ''", "labelOverlap": false, "labelFlush": false}}},
  "layer": [
   {"transform": [{"filter": "isValid(datum.x)"}], "mark": {"type": "bar", "color": "#ae017e", "opacity": 0.3, "width": 2.85},
    "encoding": {"y": {"field": "x", "type": "quantitative", "title": null, "scale": {"domain": [-7.9, 165.6], "nice": false, "zero": false}, "axis": {"values": [0,25,50,75,100,125,150], "labelExpr": "datum.value % 50 == 0 ? format(datum.value, ',') : ''"}}, "y2": {"datum": 0}}},
   {"mark": {"type": "line", "color": "#ae017e", "strokeWidth": 1.7}, "encoding": {"y": {"field": "xl", "type": "quantitative", "title": null}}}
  ]}
 ], "bounds": "flush", "spacing": 102.5}
],
"spacing": 57.6
}
